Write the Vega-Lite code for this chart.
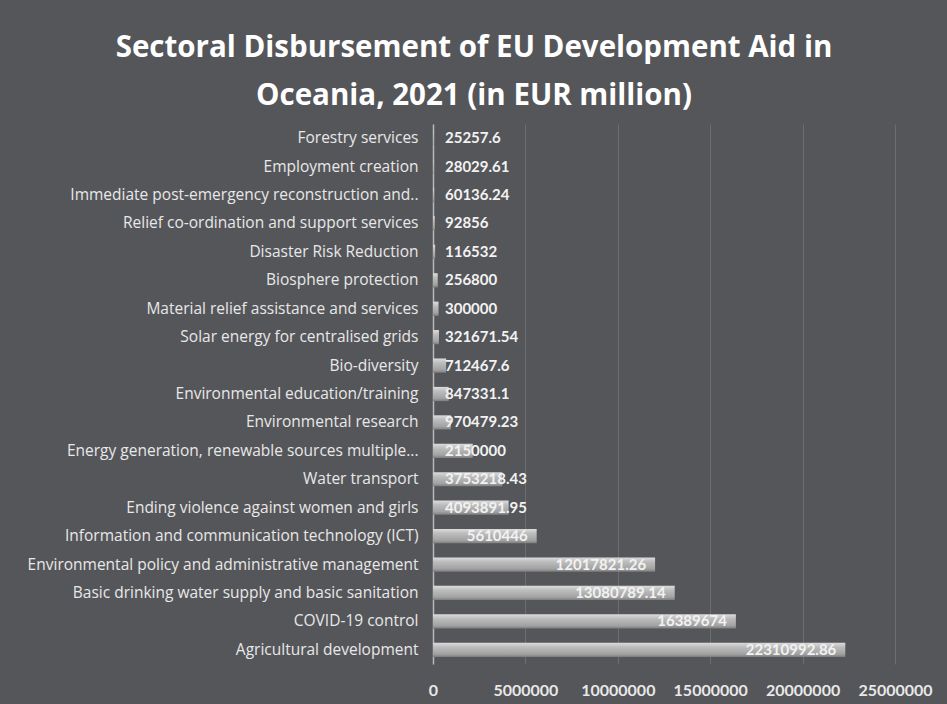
{
  "$schema": "https://vega.github.io/schema/vega-lite/v6.json",
  "width": 462,
  "height": 540,
  "autosize": {"type": "none"},
  "padding": {"left": 433, "top": 124, "right": 52, "bottom": 40},
  "background": "#55565a",
  "title": {
    "text": ["Sectoral Disbursement of EU Development Aid in", "Oceania, 2021 (in EUR million)"],
    "anchor": "middle",
    "dx": -190,
    "offset": 13,
    "font": "Open Sans",
    "fontSize": 29.5,
    "fontWeight": "bold",
    "color": "#ffffff",
    "lineHeight": 48
  },
  "config": {
    "view": {"stroke": null},
    "font": "Open Sans"
  },
  "data": {
    "values": [
      {"sector": "Forestry services", "value": 25257.6, "label": "25257.6"},
      {"sector": "Employment creation", "value": 28029.61, "label": "28029.61"},
      {"sector": "Immediate post-emergency reconstruction and..", "value": 60136.24, "label": "60136.24"},
      {"sector": "Relief co-ordination and support services", "value": 92856, "label": "92856"},
      {"sector": "Disaster Risk Reduction", "value": 116532, "label": "116532"},
      {"sector": "Biosphere protection", "value": 256800, "label": "256800"},
      {"sector": "Material relief assistance and services", "value": 300000, "label": "300000"},
      {"sector": "Solar energy for centralised grids", "value": 321671.54, "label": "321671.54"},
      {"sector": "Bio-diversity", "value": 712467.6, "label": "712467.6"},
      {"sector": "Environmental education/training", "value": 847331.1, "label": "847331.1"},
      {"sector": "Environmental research", "value": 970479.23, "label": "970479.23"},
      {"sector": "Energy generation, renewable sources multiple...", "value": 2150000, "label": "2150000"},
      {"sector": "Water transport", "value": 3753218.43, "label": "3753218.43"},
      {"sector": "Ending violence against women and girls", "value": 4093891.95, "label": "4093891.95"},
      {"sector": "Information and communication technology (ICT)", "value": 5610446, "label": "5610446"},
      {"sector": "Environmental policy and administrative management", "value": 12017821.26, "label": "12017821.26"},
      {"sector": "Basic drinking water supply and basic sanitation", "value": 13080789.14, "label": "13080789.14"},
      {"sector": "COVID-19 control", "value": 16389674, "label": "16389674"},
      {"sector": "Agricultural development", "value": 22310992.86, "label": "22310992.86"}
    ]
  },
  "encoding": {
    "y": {
      "field": "sector",
      "type": "nominal",
      "sort": null,
      "scale": {"paddingInner": 0.5, "paddingOuter": 0.25},
      "axis": {
        "title": null,
        "labelFont": "Open Sans",
        "labelFontSize": 15.5,
        "labelColor": "#e8e8e8",
        "labelPadding": 15,
        "labelLimit": 460,
        "ticks": false,
        "domainColor": "#b8b8b8",
        "domainWidth": 1.5
      }
    }
  },
  "layer": [
    {
      "mark": {
        "type": "bar",
        "color": {
          "gradient": "linear",
          "x1": 0, "y1": 0, "x2": 0, "y2": 1,
          "stops": [
            {"offset": 0, "color": "#dcdcdc"},
            {"offset": 0.3, "color": "#bdbdbd"},
            {"offset": 0.8, "color": "#a2a2a2"},
            {"offset": 1, "color": "#7e7e7e"}
          ]
        }
      },
      "encoding": {
        "x": {
          "field": "value",
          "type": "quantitative",
          "scale": {"domain": [0, 25000000], "nice": false},
          "axis": {
            "title": null,
            "values": [0, 5000000, 10000000, 15000000, 20000000, 25000000],
            "format": "d",
            "labelOverlap": false,
            "labelFlush": false,
            "labelFont": "Lato",
            "labelFontSize": 16,
            "labelFontWeight": "bold",
            "labelColor": "#e8e8e8",
            "labelPadding": 18,
            "ticks": false,
            "domain": false,
            "grid": true,
            "gridColor": "#6c6d71",
            "gridWidth": 1
          }
        }
      }
    },
    {
      "transform": [{"filter": "datum.value < 5000000"}],
      "mark": {
        "type": "text",
        "align": "left",
        "baseline": "middle",
        "dx": 12,
        "font": "Lato",
        "fontSize": 15,
        "fontWeight": "bold",
        "color": "#f2f2f2"
      },
      "encoding": {
        "x": {"datum": 0, "type": "quantitative"},
        "text": {"field": "label"}
      }
    },
    {
      "transform": [{"filter": "datum.value >= 5000000"}],
      "mark": {
        "type": "text",
        "align": "right",
        "baseline": "middle",
        "dx": -9,
        "font": "Lato",
        "fontSize": 15,
        "fontWeight": "bold",
        "color": "#f2f2f2"
      },
      "encoding": {
        "x": {"field": "value", "type": "quantitative"},
        "text": {"field": "label"}
      }
    }
  ]
}
